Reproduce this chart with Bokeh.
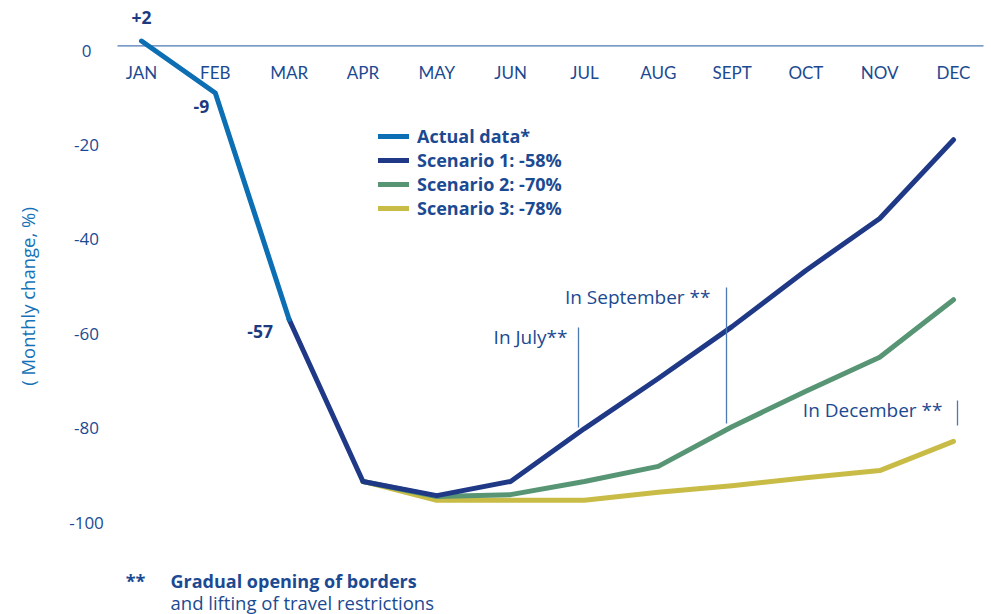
from bokeh.plotting import figure
from bokeh.models import Range1d, Legend, LegendItem
from bokeh.core.properties import value
from bokeh.embed import file_html
from bokeh.resources import INLINE
import math

# ---------------- data ----------------
months = ["JAN", "FEB", "MAR", "APR", "MAY", "JUN", "JUL", "AUG", "SEPT", "OCT", "NOV", "DEC"]
actual = [2, -9, -57]
actual_labels = ["+2", "-9", "-57"]
scenario1 = [-57, -91.3, -94.3, -91.3, -80.1, -69.5, -58.5, -46.6, -35.6, -18.9]   # MAR..DEC
scenario2 = [-91.3, -94.5, -94.1, -91.3, -88.1, -79.7, -72.2, -65.0, -52.8]          # APR..DEC
scenario3 = [-91.3, -95.3, -95.3, -95.3, -93.6, -92.2, -90.5, -89.0, -82.8]          # APR..DEC
y_ticks = [0, -20, -40, -60, -80, -100]
legend_labels = ["Actual data*", "Scenario 1: -58%", "Scenario 2: -70%", "Scenario 3: -78%"]

# ---------------- layout helpers (page pixel -> data) ----------------
W, H = 991, 614
JAN_PX, MONTH_PX = 141.0, 73.82     # page x of JAN, px per month
ZERO_PY, UNIT_PX = 50.0, 4.72       # page y of value 0, px per unit
def fx(px): return (px - JAN_PX) / MONTH_PX
def fy(py): return (ZERO_PY - py) / UNIT_PX

TEXT = "#1b4a92"
AXIS = "#4c79b4"
C_ACT = "#0c6eb3"
C_S1 = "#1f3987"
C_S2 = "#579575"
C_S3 = "#c9bc46"
FONT = value("Open Sans")

p = figure(width=W, height=H, x_range=Range1d(fx(0), fx(W)), y_range=Range1d(fy(H), fy(0)),
           output_backend="svg", toolbar_location=None, min_border=0,
           x_axis_location=None, y_axis_location=None)
p.grid.visible = False
p.outline_line_color = None
p.background_fill_color = "white"
p.border_fill_color = "white"

# zero line
p.segment(x0=[fx(117)], y0=[1], x1=[fx(983)], y1=[1], line_color=AXIS, line_width=1.3)

idx = list(range(12))
lw = 5
r3 = p.line(idx[3:], scenario3, line_color=C_S3, line_width=lw, line_cap="round", line_join="round")
r2 = p.line(idx[3:], scenario2, line_color=C_S2, line_width=lw, line_cap="round", line_join="round")
r1 = p.line(idx[2:], scenario1, line_color=C_S1, line_width=lw, line_cap="round", line_join="round")
r0 = p.line(idx[:3], actual, line_color=C_ACT, line_width=lw, line_cap="round", line_join="round")

# month labels
p.text(x=idx, y=[0] * 12, text=months, y_offset=22, text_align="center", text_baseline="middle",
       text_color=TEXT, text_font=value("Lato"), text_font_size="17px")

# y tick labels
p.text(x=[fx(86)] * len(y_ticks), y=y_ticks, text=[str(t) for t in y_ticks], text_align="center",
       text_baseline="middle", text_color=TEXT, text_font=FONT, text_font_size="17px")

# y title
p.text(x=[fx(27)], y=[fy(296)], text=["( Monthly change, %)"], angle=math.pi / 2,
       text_align="center", text_baseline="middle", text_color="#1672b7", text_font=FONT,
       text_font_size="18.5px")

# data labels for actual
p.text(x=idx[:3], y=actual, text=actual_labels, x_offset=[0, -14, -29], y_offset=[-24, 14, 12],
       text_align="center", text_baseline="middle", text_color="#1d3a80", text_font=FONT,
       text_font_size="17.5px", text_font_style="bold")

# annotation markers
p.segment(x0=[fx(578), fx(726), fx(957)], y0=[fy(327), fy(287), fy(400)],
          x1=[fx(578), fx(726), fx(957)], y1=[fy(427), fy(423), fy(425)],
          line_color=AXIS, line_width=1.3)
p.text(x=[fx(567), fx(710), fx(942)], y=[fy(336), fy(296), fy(409)],
       text=["In July**", "In September **", "In December **"], text_align="right",
       text_baseline="middle", text_color=TEXT, text_font=FONT, text_font_size="19px")

# footnote
p.text(x=[fx(135)], y=[fy(580)], text=["**"], text_align="center", text_baseline="middle",
       text_color=TEXT, text_font=FONT, text_font_size="18px", text_font_style="bold")
p.text(x=[fx(170)], y=[fy(580)], text=["Gradual opening of borders"], text_align="left",
       text_baseline="middle", text_color=TEXT, text_font=FONT, text_font_size="18px",
       text_font_style="bold")
p.text(x=[fx(170)], y=[fy(602)], text=["and lifting of travel restrictions"], text_align="left",
       text_baseline="middle", text_color=TEXT, text_font=FONT, text_font_size="18.5px")

legend = Legend(items=[LegendItem(label=legend_labels[0], renderers=[r0]),
                       LegendItem(label=legend_labels[1], renderers=[r1]),
                       LegendItem(label=legend_labels[2], renderers=[r2]),
                       LegendItem(label=legend_labels[3], renderers=[r3])],
                location=(378, H - 132 - 88), orientation="vertical")
legend.border_line_color = None
legend.background_fill_alpha = 0
legend.padding = 0
legend.margin = 0
legend.spacing = 0
legend.glyph_width = 31
legend.glyph_height = 22
legend.label_height = 22
legend.label_standoff = 8
legend.label_text_font = "Open Sans"
legend.label_text_font_size = "18px"
legend.label_text_font_style = "bold"
legend.label_text_color = TEXT
legend.label_text_baseline = "middle"
p.add_layout(legend, "center")

open("out.html", "w").write(file_html(p, INLINE))
